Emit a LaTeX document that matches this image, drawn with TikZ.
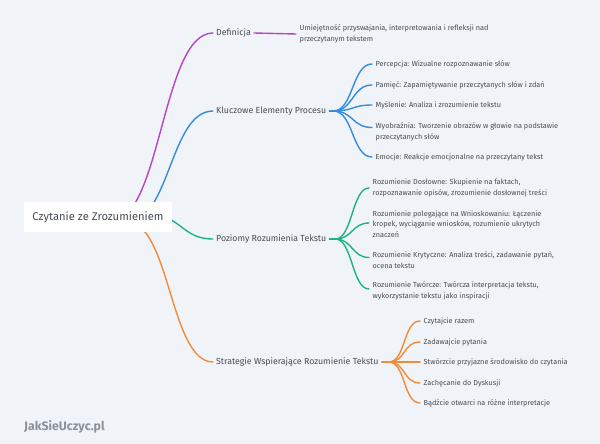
\documentclass[tikz,border=0pt]{standalone}
\usepackage{fontspec}
\setmainfont{Fira Sans}
\definecolor{bg}{RGB}{240,243,247}
\definecolor{txt}{RGB}{72,78,86}
\definecolor{wmc}{RGB}{138,146,156}
\definecolor{cP}{RGB}{186,68,200}
\definecolor{cB}{RGB}{52,140,220}
\definecolor{cG}{RGB}{30,178,138}
\definecolor{cO}{RGB}{240,140,60}
\begin{document}
\begin{tikzpicture}[x=1pt,y=-1pt,
  link/.style={line width=1.4pt, line cap=round},
  lbl/.style={inner xsep=3pt, inner ysep=1pt, font=\fontsize{8.8}{10}\selectfont, text=txt, anchor=west},
  leaf/.style={inner xsep=3.5pt, inner ysep=1pt, font=\fontsize{7.3}{10.8}\selectfont, text=txt, anchor=west, align=left},
  rootbox/.style={fill=white, minimum width=148pt, minimum height=30pt, inner sep=0pt, font=\fontsize{11.2}{13}\selectfont, text=txt},
  fan/.style={link}]
\fill[bg] (0,0) rectangle (600,444);
\useasboundingbox (0,0) rectangle (600,444);

% main labels
\node[lbl] (def) at (213,33) {Definicja};
\node[lbl] (kep) at (213,111) {Kluczowe Elementy Procesu};
\node[lbl] (prt) at (213,239) {Poziomy Rozumienia Tekstu};
\node[lbl] (swr) at (213,362) {Strategie Wspierające Rozumienie Tekstu};

% hidden sources behind root box
\coordinate (sP) at (110,222);
\coordinate (sB) at (127,222);
\coordinate (sG) at (150,215);
\coordinate (sO) at (127,222);
\draw[link,cP] (sP) .. controls (161.5,222) and (161.5,33) .. (def.west);
\draw[link,cB] (sB) .. controls (170,222) and (170,111) .. (kep.west);
\draw[link,cG] (sG) .. controls (181.5,215) and (181.5,239) .. (prt.west);
\draw[link,cO] (sO) .. controls (170,222) and (170,362) .. (swr.west);

% root
\node[rootbox] (root) at (98,217) {Czytanie ze Zrozumieniem};

% definition
\node[leaf] (deftext) at (296,34) {Umiejętność przyswajania, interpretowania i refleksji nad\\przeczytanym tekstem};
\draw[link,cP] (def.east) -- (deftext.west);

% blue fan
\coordinate (ko) at ([xshift=4pt]kep.east);
\draw[link,cB] (kep.east) -- (ko);
\node[leaf] (k1) at (372,64) {Percepcja: Wizualne rozpoznawanie słów};
\node[leaf] (k2) at (372,85) {Pamięć: Zapamiętywanie przeczytanych słów i zdań};
\node[leaf] (k3) at (372,105) {Myślenie: Analiza i zrozumienie tekstu};
\node[leaf] (k4) at (372,131.5) {Wyobraźnia: Tworzenie obrazów w głowie na podstawie\\przeczytanych słów};
\node[leaf] (k5) at (372,157) {Emocje: Reakcje emocjonalne na przeczytany tekst};
\foreach \c in {k1,k2,k3,k5}
  \draw[fan,cB] (ko) .. controls +(20,0) and +(-20,0) .. (\c.west);
\draw[fan,cB] (ko) .. controls +(20,0) and +(-20,0) .. ([yshift=4pt]k4.west);

% green fan
\coordinate (po) at ([xshift=6pt]prt.east);
\draw[link,cG] (prt.east) -- (po);
\node[leaf] (p1) at (369,188) {Rozumienie Dosłowne: Skupienie na faktach,\\rozpoznawanie opisów, zrozumienie dosłownej treści};
\node[leaf] (p2) at (369,224) {Rozumienie polegające na Wnioskowaniu: Łączenie\\kropek, wyciąganie wniosków, rozumienie ukrytych\\znaczeń};
\node[leaf] (p3) at (369,260.5) {Rozumienie Krytyczne: Analiza treści, zadawanie pytań,\\ocena tekstu};
\node[leaf] (p4) at (369,291) {Rozumienie Twórcze: Twórcza interpretacja tekstu,\\wykorzystanie tekstu jako inspiracji};
\draw[fan,cG] (po) .. controls +(17,0) and +(-17,0) .. (p1.west);
\draw[fan,cG] (po) .. controls +(17,0) and +(-17,0) .. ([yshift=1pt]p2.west);
\draw[fan,cG] (po) .. controls +(17,0) and +(-17,0) .. ([yshift=3pt]p3.west);
\draw[fan,cG] (po) .. controls +(17,0) and +(-17,0) .. ([yshift=2pt]p4.west);

% orange fan
\coordinate (so) at ([xshift=7pt]swr.east);
\draw[link,cO] (swr.east) -- (so);
\node[leaf] (s1) at (420,321) {Czytajcie razem};
\node[leaf] (s2) at (420,342) {Zadawajcie pytania};
\node[leaf] (s3) at (420,362) {Stwórzcie przyjazne środowisko do czytania};
\node[leaf] (s4) at (420,383) {Zachęcanie do Dyskusji};
\node[leaf] (s5) at (420,403) {Bądźcie otwarci na różne interpretacje};
\foreach \c in {s1,s2,s3,s4,s5}
  \draw[fan,cO] (so) .. controls +(17,0) and +(-17,0) .. (\c.west);

% watermark
\node[anchor=west, inner sep=0pt, font=\bfseries\fontsize{12.3}{12}\selectfont, text=wmc] (wm) at (24,427) {JakSieUczyc.pl};
\end{tikzpicture}
\end{document}
